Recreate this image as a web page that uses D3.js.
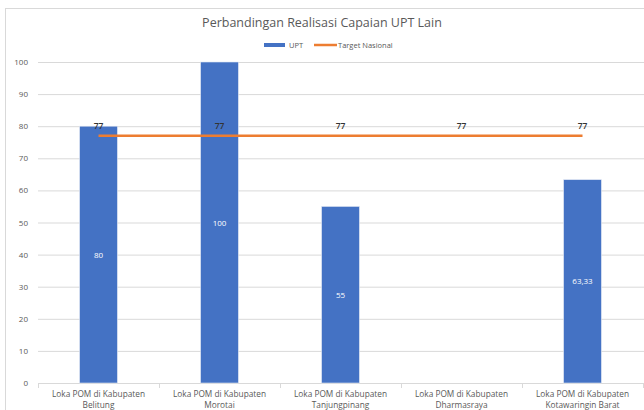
<!DOCTYPE html>
<html><head><meta charset="utf-8">
<script src="https://cdn.jsdelivr.net/npm/d3@7"></script>
<style>body{margin:0;background:#fff;}svg{display:block;font-family:"Open Sans",sans-serif;}</style>
</head><body>
<script>
const categories = [
  ["Loka POM di Kabupaten","Belitung"],
  ["Loka POM di Kabupaten","Morotai"],
  ["Loka POM di Kabupaten","Tanjungpinang"],
  ["Loka POM di Kabupaten","Dharmasraya"],
  ["Loka POM di Kabupaten","Kotawaringin Barat"]
];
const uptValues = [80, 100, 55, null, 63.33];
const uptLabels = ["80", "100", "55", "", "63,33"];
const targetValues = [77, 77, 77, 77, 77];
const yTicks = [0,10,20,30,40,50,60,70,80,90,100];
const title = "Perbandingan Realisasi Capaian UPT Lain";
const seriesNames = ["UPT", "Target Nasional"];

const W = 644, H = 410;
const svg = d3.select("body").append("svg").attr("width", W).attr("height", H);
svg.append("rect").attr("x",5.5).attr("y",8.5).attr("width",W+20).attr("height",H+20)
  .attr("fill","#fff").attr("stroke","#d9d9d9");

const idx = categories.map((d,i)=>i);
const x = d3.scaleBand().domain(idx).range([38, 643]).paddingInner(0.688).paddingOuter(0.344);
const xs = d3.scaleBand().domain(idx).range([38, 643]);
const y = d3.scaleLinear().domain([0,100]).range([383, 62]);

// gridlines
svg.append("g").selectAll("line").data(yTicks.filter(d=>d>0)).join("line")
  .attr("x1",38).attr("x2",W).attr("y1",d=>y(d)+0.5).attr("y2",d=>y(d)+0.5)
  .attr("stroke","#d9d9d9").attr("stroke-width",1);

// y axis labels
const yAxis = d3.axisLeft(y).tickValues(yTicks).tickSize(0).tickPadding(0);
const gy = svg.append("g").attr("transform","translate(28,0)").call(yAxis);
gy.select(".domain").remove();
gy.selectAll("text").attr("fill","#595959").attr("font-size","8px").attr("font-family","Open Sans");

// x axis
svg.append("line").attr("x1",38).attr("x2",W).attr("y1",383.5).attr("y2",383.5).attr("stroke","#d9d9d9");
svg.append("g").selectAll("line").data(d3.range(categories.length+1)).join("line")
  .attr("x1",d=>Math.round(38 + d*xs.step())+0.5).attr("x2",d=>Math.round(38 + d*xs.step())+0.5)
  .attr("y1",383).attr("y2",388).attr("stroke","#d9d9d9");
const xl = svg.append("g");
categories.forEach((c,i)=>{
  const t = xl.append("text").attr("x", xs(i)+xs.bandwidth()/2).attr("text-anchor","middle")
    .attr("fill","#595959").attr("font-size","8.3px");
  c.forEach((line,j)=>t.append("tspan").attr("x", xs(i)+xs.bandwidth()/2).attr("y", 397 + j*11).text(line));
});

// bars
svg.append("g").selectAll("rect").data(idx.filter(i=>uptValues[i]!=null)).join("rect")
  .attr("x",i=>x(i)).attr("width",x.bandwidth())
  .attr("y",i=>y(uptValues[i])).attr("height",i=>y(0)-y(uptValues[i]))
  .attr("fill","#4472C4").attr("stroke","#dfe6f3").attr("stroke-width",0.6);

svg.append("g").selectAll("text").data(idx.filter(i=>uptValues[i]!=null)).join("text")
  .attr("x",i=>x(i)+x.bandwidth()/2).attr("y",i=>(y(uptValues[i])+y(0))/2+3)
  .attr("text-anchor","middle").attr("fill","#ffffff").attr("font-size","8px")
  .text(i=>uptLabels[i]);

// target line
const cx = i => x(i)+x.bandwidth()/2;
svg.append("path").datum(idx)
  .attr("d", d3.line().x(i=>cx(i)).y(i=>y(targetValues[i])))
  .attr("fill","none").attr("stroke","#ED7D31").attr("stroke-width",2.5);
svg.append("g").selectAll("text").data(idx).join("text")
  .attr("x",i=>cx(i)).attr("y",i=>y(targetValues[i])-7)
  .attr("text-anchor","middle").attr("fill","#333333").attr("font-size","8.5px").attr("font-weight","600")
  .text(i=>targetValues[i]);

// title
svg.append("text").attr("x",322).attr("y",27).attr("text-anchor","middle")
  .attr("fill","#595959").attr("font-size","12.5px").text(title);

// legend
svg.append("rect").attr("x",264).attr("y",43).attr("width",21).attr("height",4).attr("fill","#4472C4");
svg.append("text").attr("x",289).attr("y",48).attr("fill","#595959").attr("font-size","7.5px").text(seriesNames[0]);
svg.append("line").attr("x1",314).attr("x2",337).attr("y1",45).attr("y2",45).attr("stroke","#ED7D31").attr("stroke-width",2.5);
svg.append("text").attr("x",338).attr("y",48).attr("fill","#595959").attr("font-size","7.5px").text(seriesNames[1]);
</script>
</body></html>
